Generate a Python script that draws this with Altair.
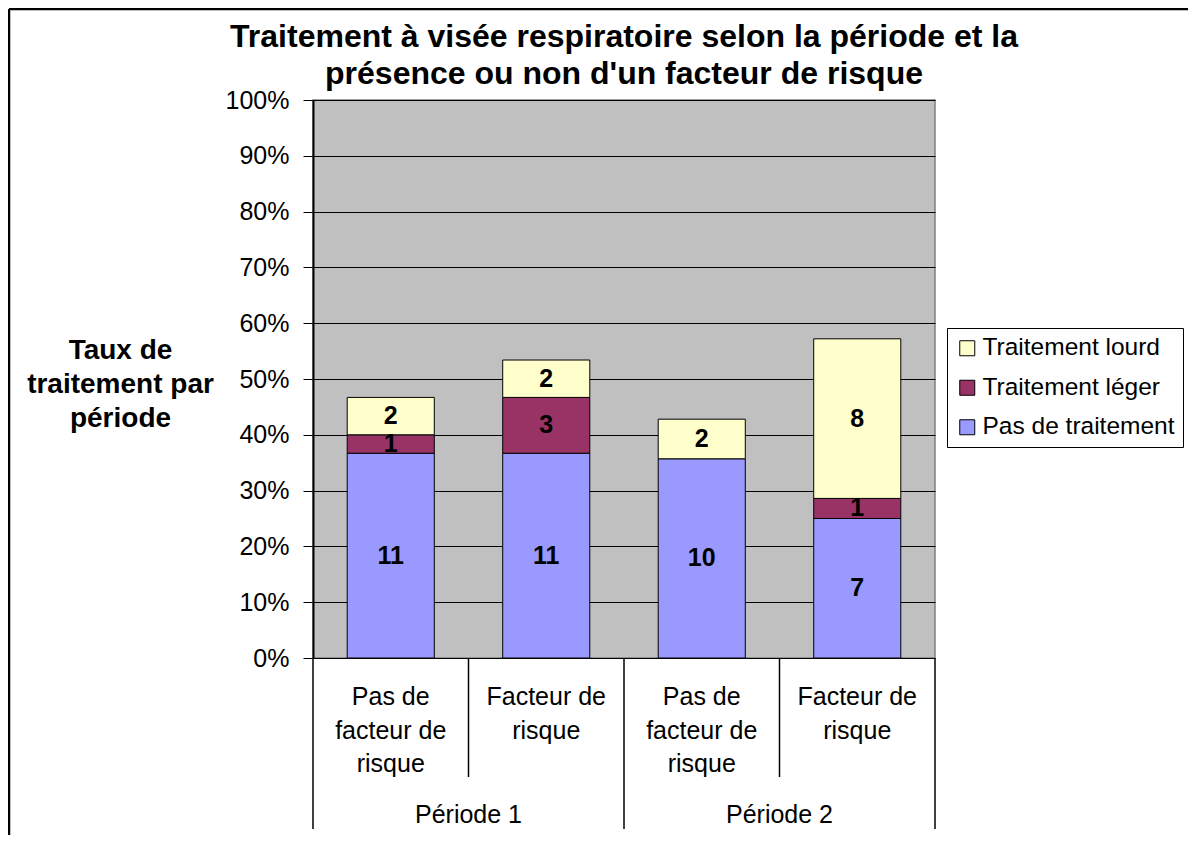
import altair as alt
import pandas as pd

FONT = "Liberation Sans"

# ---- data ----
cat_ids = ["c1", "c2", "c3", "c4"]
inner_labels = ["Pas de\nfacteur de\nrisque", "Facteur de\nrisque", "Pas de\nfacteur de\nrisque", "Facteur de\nrisque"]
inner_pos = [0.5, 1.5, 2.5, 3.5]
period_labels = ["Période 1", "Période 2"]
period_pos = [1.0, 3.0]
sep_inner = [1.0, 3.0]
sep_outer = [0.0, 2.0, 4.0]

series = ["Pas de traitement", "Traitement léger", "Traitement lourd"]
series_order = [0, 1, 2]
colors = ["#9999FF", "#993366", "#FFFFCC"]

pas_pct = [0.367, 0.367, 0.357, 0.250]
leger_pct = [0.033, 0.100, 0.000, 0.036]
lourd_pct = [0.067, 0.067, 0.071, 0.286]
pas_n = [11, 11, 10, 7]
leger_n = [1, 3, 0, 1]
lourd_n = [2, 2, 2, 8]

y_ticks = [0, 0.1, 0.2, 0.3, 0.4, 0.5, 0.6, 0.7, 0.8, 0.9, 1.0]

rows = []
for s, o, pcts, ns in zip(series, series_order, [pas_pct, leger_pct, lourd_pct], [pas_n, leger_n, lourd_n]):
    for c, p, n in zip(cat_ids, pcts, ns):
        if n > 0:
            rows.append({"cat": c, "serie": s, "ord": o, "pct": p, "n": n})
df = pd.DataFrame(rows)

W, H = 622, 558

base = alt.Chart(df).transform_stack(
    stack="pct", groupby=["cat"], as_=["y0", "y1"], sort=[alt.SortField("ord")]
).transform_calculate(mid="(datum.y0 + datum.y1) / 2")

xband = alt.X("cat:N", sort=cat_ids,
              scale=alt.Scale(paddingInner=0.44, paddingOuter=0.22),
              axis=alt.Axis(labels=False, ticks=False, title=None, domainColor="black", domainWidth=2, grid=False))

bars = base.mark_bar(stroke="black", strokeWidth=1).encode(
    x=xband,
    y=alt.Y("y0:Q", scale=alt.Scale(domain=[0, 1], nice=False),
            axis=alt.Axis(values=y_ticks, format=".0%", labelFont=FONT, labelFontSize=25, labelColor="black",
                          labelPadding=14, tickSize=10, tickColor="black", tickWidth=1,
                          domainColor="black", domainWidth=2, grid=True, gridColor="black", gridWidth=1,
                          title=["Taux de", "traitement par", "période"], titleFont=FONT, titleFontSize=28,
                          titleFontWeight="bold", titleColor="black", titleAngle=0, titleAlign="center",
                          titleBaseline="alphabetic", titleX=-193, titleY=258, titleLineHeight=34)),
    y2="y1:Q",
    color=alt.Color("serie:N", scale=alt.Scale(domain=[series[2], series[1], series[0]],
                                               range=[colors[2], colors[1], colors[0]]),
                    legend=alt.Legend(title=None, orient="none", legendX=634, legendY=228,
                                      labelFont=FONT, labelFontSize=24.5, labelColor="black", labelLimit=400,
                                      symbolType="square", symbolSize=225, symbolStrokeColor="black",
                                      symbolStrokeWidth=1, strokeColor="black", fillColor="white",
                                      padding=8, rowPadding=14.5, labelOffset=3)),
)

labels = base.mark_text(font=FONT, fontSize=25, fontWeight="bold", color="black", baseline="middle").encode(
    x=alt.X("cat:N", sort=cat_ids, scale=alt.Scale(paddingInner=0.44, paddingOuter=0.22), axis=None),
    y=alt.Y("mid:Q", scale=alt.Scale(domain=[0, 1], nice=False)),
    text="n:Q",
)

left = alt.layer(bars, labels)

xq = alt.X("pos:Q", scale=alt.Scale(domain=[0, 4], nice=False, zero=False), axis=None)

inner_df = pd.DataFrame({"pos": inner_pos, "label": inner_labels})
inner_text = alt.Chart(inner_df).mark_text(font=FONT, fontSize=25, color="black", baseline="alphabetic",
                                           align="center", lineBreak="\n", lineHeight=33.5).encode(
    x=xq, y=alt.value(605), text="label:N")

period_df = pd.DataFrame({"pos": period_pos, "label": period_labels})
period_text = alt.Chart(period_df).mark_text(font=FONT, fontSize=25, color="black", baseline="alphabetic",
                                             align="center").encode(
    x=xq, y=alt.value(723), text="label:N")

sep_in = alt.Chart(pd.DataFrame({"pos": sep_inner})).mark_rule(color="black", strokeWidth=1.5).encode(
    x=xq, y=alt.value(H), y2=alt.value(677))
sep_out = alt.Chart(pd.DataFrame({"pos": sep_outer})).mark_rule(color="black", strokeWidth=1.5).encode(
    x=xq, y=alt.value(H), y2=alt.value(729))

frame_df = pd.DataFrame({"a": [0]})
border_v = alt.Chart(frame_df).mark_rule(color="black", strokeWidth=2.5).encode(
    x=alt.value(-304), y=alt.value(-91), y2=alt.value(740))
border_h = alt.Chart(frame_df).mark_rule(color="black", strokeWidth=2.5).encode(
    y=alt.value(-91), x=alt.value(-304), x2=alt.value(880))

right = alt.layer(inner_text, period_text, sep_in, sep_out, border_v, border_h)

chart = alt.layer(left, right).resolve_scale(x="independent").properties(
    width=W, height=H,
    title=alt.TitleParams(text=["Traitement à visée respiratoire selon la période et la",
                                "présence ou non d'un facteur de risque"],
                          font=FONT, fontSize=32, fontWeight="bold", color="black",
                          anchor="middle", frame="group", offset=-83, lineHeight=37),
    autosize=alt.AutoSizeParams(type="none"),
    padding={"left": 305, "top": 92, "right": 253, "bottom": 177},
    background="white",
).configure_view(fill="#C0C0C0", stroke="#808080", strokeWidth=1.5)

chart.save("out.html", embed_options={"renderer": "svg", "actions": False})
